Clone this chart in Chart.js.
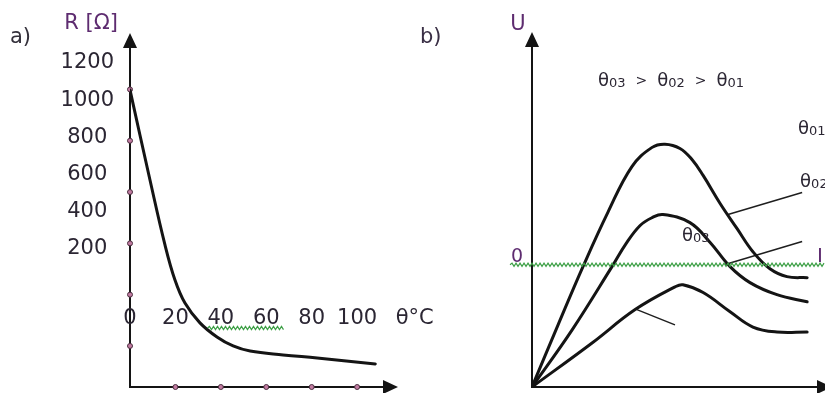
<!DOCTYPE html>
<html>
<head>
<meta charset="utf-8">
<title>R(θ) / U(I)</title>
<script src="https://cdn.jsdelivr.net/npm/chart.js@4.4.0/dist/chart.umd.min.js"></script>
<style>
  html, body { margin: 0; padding: 0; background: #fff; }
  #wrap { position: relative; width: 825px; height: 393px; overflow: hidden; }
  canvas { position: absolute; top: 0; }
  #chartA { left: 0; }
  #chartB { left: 412px; }
</style>
</head>
<body>
<div id="wrap">
  <canvas id="chartA" width="460" height="393"></canvas>
  <canvas id="chartB" width="413" height="393"></canvas>
</div>
<script>
// a) thermistor: resistance over temperature
const thetaC      = [0, 8.8, 15.4, 19.8, 24.2, 30.8, 38.3, 45.4, 52.9, 67.4, 82.4, 108];
const resistance  = [1198, 847, 594, 457, 367, 290, 235, 200, 180, 165, 153, 130];
const rDots       = [200, 400, 600, 800, 1000, 1200];
const thetaDots   = [20, 40, 60, 80, 100];
const rLabels     = [200, 400, 600, 800, 1000, 1200];
const thetaLabels = [0, 20, 40, 60, 80, 100];

// b) U(I) for three ambient temperatures
const current01 = [0, 8.9, 17.4, 25.9, 34.1, 41.0, 45.4, 50.5, 54.6, 58.4, 64.2, 70.0, 75.4, 81.2, 87.0, 93.9];
const voltage01 = [0, 17.5, 33.9, 49.2, 62.1, 67.5, 68.4, 67.2, 64.1, 59.6, 51.7, 44.6, 38.1, 33.3, 31.1, 30.8];
const current02 = [0, 13.7, 27.3, 32.1, 36.9, 41.0, 44.7, 53.9, 60.8, 67.6, 74.4, 83.6, 93.9];
const voltage02 = [0, 16.1, 33.9, 40.4, 45.5, 47.7, 48.6, 46.3, 40.7, 33.9, 29.4, 26.0, 24.0];
const current03 = [0, 20.5, 35.2, 48.8, 51.5, 58.4, 67.6, 75.4, 83.6, 93.9];
const voltage03 = [0, 12.4, 21.8, 28.2, 28.8, 26.6, 21.2, 16.9, 15.5, 15.5];
// pointer lines from the curves to their tags
const leaderI = [[66.9, 92.2], [65.9, 92.2], [35.8, 48.8]];
const leaderU = [[48.6, 54.8], [34.5, 41.0], [21.8, 17.5]];
const tagSubs = ['01', '02', '03'];
const tagI    = [90.8, 91.5, 51.2];
const tagU    = [73.2, 58.2, 42.9];

const FONT = '"DejaVu Sans", Verdana, sans-serif';
const INK = '#141414';
const NUM = '#2b2633';
const PURPLE = '#5e2c70';
const DOT = '#c27ca2';
const DOT_EDGE = '#4a2d3e';

const R_MIN = 40, R_MAX = 1420, THETA_MAX = 118;
const THETA_ROW = 305;      // height (in Ω) of the θ label row
const I_ROW = 36.7;         // height of the "0 ... I" row in panel b

function arrowUp(ctx, x, y) {
  ctx.beginPath();
  ctx.moveTo(x, y);
  ctx.lineTo(x - 7, y + 15);
  ctx.lineTo(x + 7, y + 15);
  ctx.closePath();
  ctx.fill();
}

function arrowRight(ctx, x, y) {
  ctx.beginPath();
  ctx.moveTo(x, y);
  ctx.lineTo(x - 15, y - 7);
  ctx.lineTo(x - 15, y + 7);
  ctx.closePath();
  ctx.fill();
}

function squiggle(ctx, x0, x1, y) {
  ctx.save();
  ctx.strokeStyle = '#3c9f45';
  ctx.lineWidth = 1.2;
  ctx.beginPath();
  ctx.moveTo(x0, y);
  let up = true;
  for (let x = x0 + 2; x <= x1; x += 2) {
    ctx.lineTo(x, up ? y - 1.6 : y + 1.6);
    up = !up;
  }
  ctx.stroke();
  ctx.restore();
}

// θ with a small index, left edge at x, vertically centred on y
function thetaIndex(ctx, x, y, sub, big, small) {
  const base = y + big * 0.36;
  ctx.textAlign = 'left';
  ctx.textBaseline = 'alphabetic';
  ctx.font = big + 'px ' + FONT;
  ctx.fillText('θ', x, base);
  const w = ctx.measureText('θ').width;
  ctx.font = small + 'px ' + FONT;
  ctx.fillText(sub, x + w, base + 1);
  return w + ctx.measureText(sub).width;
}

function axes(ctx, a, tipOut) {
  ctx.save();
  ctx.strokeStyle = INK;
  ctx.fillStyle = INK;
  ctx.lineWidth = 2;
  ctx.beginPath();
  ctx.moveTo(a.left, a.top + 10);
  ctx.lineTo(a.left, a.bottom);
  ctx.lineTo(a.right + tipOut - 10, a.bottom);
  ctx.stroke();
  arrowUp(ctx, a.left, a.top);
  arrowRight(ctx, a.right + tipOut, a.bottom);
  ctx.restore();
}

const sketchA = {
  id: 'sketchA',
  beforeDatasetsDraw(chart) {
    axes(chart.ctx, chart.chartArea, 0);
  },
  afterDraw(chart) {
    const {ctx, chartArea: a} = chart;
    const x = chart.scales.x, y = chart.scales.y;
    ctx.save();
    ctx.textBaseline = 'middle';
    ctx.font = '21px ' + FONT;
    ctx.fillStyle = '#33303a';
    ctx.textAlign = 'left';
    ctx.fillText('a)', 10, 38);
    ctx.fillStyle = PURPLE;
    ctx.textAlign = 'right';
    ctx.fillText('R [Ω]', a.left - 12, a.top - 9);

    const rowY = y.getPixelForValue(THETA_ROW);
    ctx.fillStyle = NUM;
    ctx.textAlign = 'center';
    thetaLabels.forEach(v => ctx.fillText(String(v), x.getPixelForValue(v), rowY));
    ctx.textAlign = 'left';
    ctx.fillText('θ°C', x.getPixelForValue(117), rowY);

    const w40 = ctx.measureText('40').width, w60 = ctx.measureText('60').width;
    squiggle(ctx, x.getPixelForValue(40) - w40 / 2, x.getPixelForValue(60) + w60 / 2 + 4, rowY + 9);
    ctx.restore();
  }
};

const sketchB = {
  id: 'sketchB',
  beforeDatasetsDraw(chart) {
    axes(chart.ctx, chart.chartArea, 7);
  },
  afterDraw(chart) {
    const {ctx, chartArea: a} = chart;
    const x = chart.scales.x, y = chart.scales.y;
    ctx.save();
    ctx.textBaseline = 'middle';
    ctx.font = '21px ' + FONT;
    ctx.fillStyle = '#3a2f45';
    ctx.textAlign = 'left';
    ctx.fillText('b)', 8, 38);
    ctx.fillStyle = PURPLE;
    ctx.textAlign = 'center';
    ctx.fillText('U', a.left - 14, a.top - 7);

    const rowY = y.getPixelForValue(I_ROW);
    ctx.font = '19px ' + FONT;
    ctx.fillText('0', x.getPixelForValue(-5.1), rowY);
    ctx.font = '20px ' + FONT;
    ctx.fillText('I', x.getPixelForValue(98.3), rowY);
    squiggle(ctx, x.getPixelForValue(-7.5), a.right, rowY + 8);

    ctx.fillStyle = NUM;
    // θ03 > θ02 > θ01
    let tx = x.getPixelForValue(22.5);
    const ty = y.getPixelForValue(86.7);
    ['03', '02', '01'].forEach((s, i) => {
      tx += thetaIndex(ctx, tx, ty, s, 18, 13);
      if (i < 2) {
        ctx.font = '14px ' + FONT;
        ctx.textBaseline = 'middle';
        ctx.fillText('>', tx + 10, ty + 2);
        tx += 20 + ctx.measureText('>').width;
      }
    });
    tagSubs.forEach((s, i) => {
      thetaIndex(ctx, x.getPixelForValue(tagI[i]), y.getPixelForValue(tagU[i]), s, 18, 13);
    });
    ctx.restore();
  }
};

const pairs = (xs, ys) => xs.map((v, i) => ({x: v, y: ys[i]}));

const curveStyle = {
  showLine: true,
  tension: 0.4,
  borderColor: INK,
  borderWidth: 3,
  pointRadius: 0,
  borderCapStyle: 'round',
  borderJoinStyle: 'round'
};
const dotStyle = {
  pointRadius: 2.5,
  pointBackgroundColor: DOT,
  pointBorderColor: DOT_EDGE,
  pointBorderWidth: 1,
  clip: false
};

new Chart(document.getElementById('chartA'), {
  type: 'scatter',
  data: {
    datasets: [
      {...curveStyle, data: pairs(thetaC, resistance)},
      {...dotStyle, data: rDots.map(r => ({x: 0, y: r}))},
      {...dotStyle, data: thetaDots.map(t => ({x: t, y: R_MIN}))}
    ]
  },
  options: {
    responsive: false,
    animation: false,
    devicePixelRatio: 1,
    layout: {padding: {left: 60, top: 33, right: 62, bottom: 6}},
    scales: {
      x: {type: 'linear', min: 0, max: THETA_MAX, display: false},
      y: {type: 'linear', min: R_MIN, max: R_MAX, display: false},
      // printed R values sit in their own, tighter column
      yLabel: {
        type: 'linear',
        position: 'left',
        min: -542,
        max: 1361,
        grid: {display: false, drawTicks: false},
        border: {display: false},
        ticks: {
          autoSkip: false,
          padding: 16,
          crossAlign: 'center',
          color: NUM,
          font: {family: FONT, size: 21},
          callback: v => String(v)
        },
        afterBuildTicks: s => { s.ticks = rLabels.map(v => ({value: v})); },
        afterFit: s => {
          s.width = 70;
          s.paddingTop = 0;
          s.paddingBottom = 0;
        }
      }
    },
    plugins: {legend: {display: false}, tooltip: {enabled: false}}
  },
  plugins: [sketchA]
});

new Chart(document.getElementById('chartB'), {
  type: 'scatter',
  data: {
    datasets: [
      {...curveStyle, data: pairs(current01, voltage01)},
      {...curveStyle, data: pairs(current02, voltage02)},
      {...curveStyle, data: pairs(current03, voltage03)},
      ...leaderI.map((xs, i) => ({
        data: pairs(xs, leaderU[i]),
        showLine: true,
        borderColor: '#1e1e1e',
        borderWidth: 1.5,
        pointRadius: 0
      }))
    ]
  },
  options: {
    responsive: false,
    animation: false,
    devicePixelRatio: 1,
    layout: {padding: {left: 120, top: 32, right: 0, bottom: 6}},
    scales: {
      x: {type: 'linear', min: 0, max: 100, display: false},
      y: {type: 'linear', min: 0, max: 100, display: false}
    },
    plugins: {legend: {display: false}, tooltip: {enabled: false}}
  },
  plugins: [sketchB]
});
</script>
</body>
</html>
